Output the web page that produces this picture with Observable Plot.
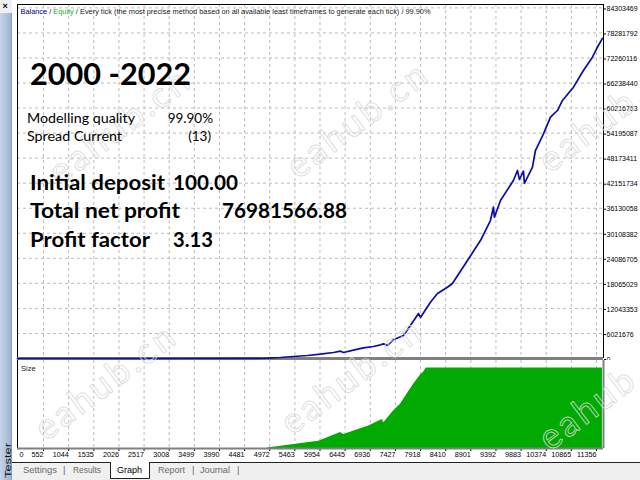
<!DOCTYPE html>
<html>
<head>
<meta charset="utf-8">
<script src="https://cdn.jsdelivr.net/npm/d3@7"></script>
<script src="https://cdn.jsdelivr.net/npm/@observablehq/plot@0.6"></script>
<style>
  body { margin: 0; width: 640px; height: 480px; overflow: hidden; background: #fff; position: relative; font-family: "Liberation Sans", Arial, sans-serif; }
  .abs { position: absolute; left: 0; }
  #overlay { position: absolute; left: 0; top: 0; pointer-events: none; }
  .big { font-family: Lato, "Open Sans", sans-serif; font-weight: bold; fill: #000; }
  .mid { font-family: Lato, "Open Sans", sans-serif; fill: #000; }
  .tab { font-family: "Liberation Sans", Arial, sans-serif; font-size: 9.5px; fill: #6a6a6a; }
  .wm { font-family: Lato, sans-serif; font-size: 36px; fill: none; stroke: #d9d9d9; stroke-width: 0.8; }
</style>
</head>
<body>
<div id="main" class="abs" style="top:0"></div>
<div id="size" class="abs" style="top:360px"></div>

<svg id="overlay" width="640" height="480">
  <!-- left "Tester" strip -->
  <defs>
    <linearGradient id="strip" x1="0" x2="1" y1="0" y2="0">
      <stop offset="0" stop-color="#c6d4e8"/>
      <stop offset="1" stop-color="#9fb4d2"/>
    </linearGradient>
  </defs>
  <rect x="0" y="0" width="12" height="13" fill="#eef0f3"/>
  <text x="2.5" y="9" font-size="9" font-weight="bold" fill="#000">×</text>
  <rect x="0" y="13" width="11" height="467" fill="url(#strip)"/>
  <line x1="11.5" y1="13" x2="11.5" y2="480" stroke="#8aa0c0"/>
  <text x="10.5" y="478" transform="rotate(-90 10.5 478)" font-size="9.5" fill="#111" textLength="35" lengthAdjust="spacingAndGlyphs">Tester</text>

  <!-- tab bar -->
  <rect x="12" y="462" width="628" height="18" fill="#f0f0f0"/>
  <line x1="12" y1="462.5" x2="110" y2="462.5" stroke="#222"/>
  <line x1="149" y1="462.5" x2="640" y2="462.5" stroke="#222"/>
  <rect x="110.5" y="462" width="38.5" height="16" fill="#fff"/>
  <path d="M110.5,462 V478.5 H149.5 V462" fill="none" stroke="#222"/>
  <text class="tab" x="23" y="473" textLength="34" lengthAdjust="spacingAndGlyphs">Settings</text>
  <text class="tab" x="63" y="473">|</text>
  <text class="tab" x="73" y="473" textLength="28" lengthAdjust="spacingAndGlyphs">Results</text>
  <text class="tab" x="117" y="473" textLength="25" lengthAdjust="spacingAndGlyphs" style="fill:#000">Graph</text>
  <text class="tab" x="158" y="473" textLength="27" lengthAdjust="spacingAndGlyphs">Report</text>
  <text class="tab" x="192" y="473">|</text>
  <text class="tab" x="200" y="473" textLength="30" lengthAdjust="spacingAndGlyphs">Journal</text>
  <text class="tab" x="237" y="473">|</text>

  <!-- watermarks -->
  <text class="wm" x="60" y="186" transform="rotate(-37 60 186)" textLength="165">eahub.cn</text>
  <text class="wm" x="298" y="180" transform="rotate(-37 298 180)" textLength="165">eahub.cn</text>
  <text class="wm" x="550" y="174" transform="rotate(-37 550 174)" textLength="165">eahub.cn</text>
  <text class="wm" x="46" y="442" transform="rotate(-37 46 442)" textLength="165">eahub.cn</text>
  <text class="wm" x="292" y="436" transform="rotate(-37 292 436)" textLength="165">eahub.cn</text>
  <text class="wm" x="550" y="452" transform="rotate(-37 550 452)" textLength="165">eahub.cn</text>

  <!-- header line -->
  <text x="20.5" y="14" font-size="8" fill="#222" textLength="410" lengthAdjust="spacingAndGlyphs"><tspan fill="#00008b">Balance</tspan> / <tspan fill="#19b019">Equity</tspan> / Every tick (the most precise method based on all available least timeframes to generate each tick) / 99.90%</text>

  <!-- report summary -->
  <text class="big" x="30" y="85" font-size="30" textLength="161" lengthAdjust="spacingAndGlyphs">2000 -2022</text>
  <text class="mid" x="27" y="123" font-size="13.5" textLength="108" lengthAdjust="spacingAndGlyphs">Modelling quality</text>
  <text class="mid" x="213" y="123" font-size="13.5" text-anchor="end">99.90%</text>
  <text class="mid" x="27" y="140.5" font-size="13.5" textLength="95" lengthAdjust="spacingAndGlyphs">Spread  Current</text>
  <text class="mid" x="211" y="140.5" font-size="13.5" text-anchor="end">(13)</text>
  <text class="big" x="30" y="190" font-size="20" textLength="135" lengthAdjust="spacingAndGlyphs">Initial deposit</text>
  <text class="big" x="173" y="190" font-size="20" textLength="65" lengthAdjust="spacingAndGlyphs">100.00</text>
  <text class="big" x="30" y="218" font-size="20" textLength="150" lengthAdjust="spacingAndGlyphs">Total net profit</text>
  <text class="big" x="222" y="218" font-size="20" textLength="125" lengthAdjust="spacingAndGlyphs">76981566.88</text>
  <text class="big" x="30" y="246.5" font-size="20" textLength="120" lengthAdjust="spacingAndGlyphs">Profit factor</text>
  <text class="big" x="173" y="246.5" font-size="20" textLength="40" lengthAdjust="spacingAndGlyphs">3.13</text>

  <text x="21" y="371" font-size="7.5" fill="#222">Size</text>
</svg>

<script>
// trade number axis (x) and balance axis (y) labels as shown by the tester
const xTicks = [0, 552, 1044, 1535, 2026, 2517, 3008, 3499, 3990, 4481, 4972, 5463, 5954,
  6445, 6936, 7427, 7918, 8410, 8901, 9392, 9883, 10374, 10865, 11356]
const yTicks = [0, 6021676, 12043353, 18065029, 24086705, 30108382, 36130058, 42151734,
  48173411, 54195087, 60216763, 66238440, 72260116, 78281792, 84303469]

// balance curve
const balanceTrades = [0, 2500, 4500, 4928, 5182, 5436, 5709, 5963, 6217, 6354, 6413, 6608, 6803,
  6999, 7135, 7194, 7272, 7389, 7585, 7721, 7878, 7917, 8112, 8249, 8444, 8542, 8835, 9089,
  9284, 9343, 9362, 9480, 9733, 9812, 9851, 9929, 9948, 10105, 10163, 10320, 10457, 10593,
  10691, 10906, 11101, 11277, 11374, 11472]
const balanceValues = [100, 2000, 15000, 70000, 240000, 480000, 720000, 1030000, 1440000, 1760000,
  1440000, 2000000, 2570000, 2890000, 3290000, 3530000, 3130000, 4500000, 5530000, 7940000,
  10820000, 9860000, 13540000, 15630000, 17140000, 18030000, 23560000, 28370000, 33180000,
  36380000, 33980000, 37990000, 42800000, 45210000, 43040000, 45040000, 42080000, 46000000,
  50010000, 54030000, 58020000, 59630000, 62040000, 65240000, 69250000, 72450000, 74850000,
  76981667]

// position size panel
const sizeTrades = [4928, 5442, 5930, 6354, 6418, 6907, 7169, 7200, 7395, 7526, 7657, 7786,
  7903, 7981, 8028, 11472]
const sizeLots = [0.3, 2.5, 4.5, 10, 8.75, 14, 18, 16, 23.5, 27.5, 33.75, 40, 45, 47.5, 50, 50]

const balance = balanceTrades.map((t, i) => ({trade: t, balance: balanceValues[i]}))
const size = sizeTrades.map((t, i) => ({trade: t, lots: sizeLots[i]}))

const xDomain = [44, 11493]
const yMax = 85120000
const grid = {stroke: '#bcbcbc', strokeOpacity: 1, strokeDasharray: '3,3'}

const chartMain = Plot.plot({
  width: 640,
  height: 360,
  marginLeft: 17,
  marginRight: 37,
  marginTop: 4,
  marginBottom: 2,
  style: {fontFamily: 'Liberation Sans', background: 'transparent', color: '#000'},
  x: {domain: xDomain, clamp: true, axis: null},
  y: {domain: [0, yMax], axis: null},
  marks: [
    Plot.gridX(xTicks.slice(1), grid),
    Plot.gridY(yTicks.slice(1), grid),
    Plot.axisY(yTicks, {
      anchor: 'right', tickSize: 2, tickPadding: 1, dy: 1, label: null,
      fontSize: 7, tickFormat: d => String(d),
    }),
    Plot.ruleX([xDomain[0]], {stroke: '#000'}),
    Plot.ruleX([xDomain[1]], {stroke: '#000'}),
    Plot.ruleY([yMax], {stroke: '#000'}),
    Plot.ruleY([0], {stroke: '#808080', strokeWidth: 3}),
    Plot.line(balance, {x: 'trade', y: 'balance', stroke: '#0c0ca6', strokeWidth: 1.7}),
  ],
})

const chartSize = Plot.plot({
  width: 640,
  height: 100,
  marginLeft: 17,
  marginRight: 37,
  marginTop: 0,
  marginBottom: 12,
  style: {fontFamily: 'Liberation Sans', background: 'transparent', color: '#000'},
  x: {domain: xDomain, clamp: true, axis: null},
  y: {domain: [0, 54.6], axis: null},
  marks: [
    Plot.gridX(xTicks.slice(1), grid),
    Plot.areaY(size, {x: 'trade', y: 'lots', fill: '#00aa00'}),
    Plot.axisX(xTicks.slice(1), {
      anchor: 'bottom', tickSize: 3, tickPadding: 0, textAnchor: 'end', label: null,
      fontSize: 7.2, tickFormat: d => String(d),
    }),
    Plot.axisX(xTicks.slice(0, 1), {
      anchor: 'bottom', tickSize: 0, tickPadding: 3, textAnchor: 'start', dx: 2, label: null,
      fontSize: 7.2, tickFormat: d => String(d),
    }),
    Plot.ruleX([xDomain[0]], {stroke: '#000'}),
    Plot.ruleX([xDomain[1]], {stroke: '#808080', strokeWidth: 2}),
    Plot.ruleY([0], {stroke: '#808080', strokeWidth: 2}),
  ],
})

d3.select('#main').append(() => chartMain)
d3.select('#size').append(() => chartSize)
</script>
</body>
</html>
